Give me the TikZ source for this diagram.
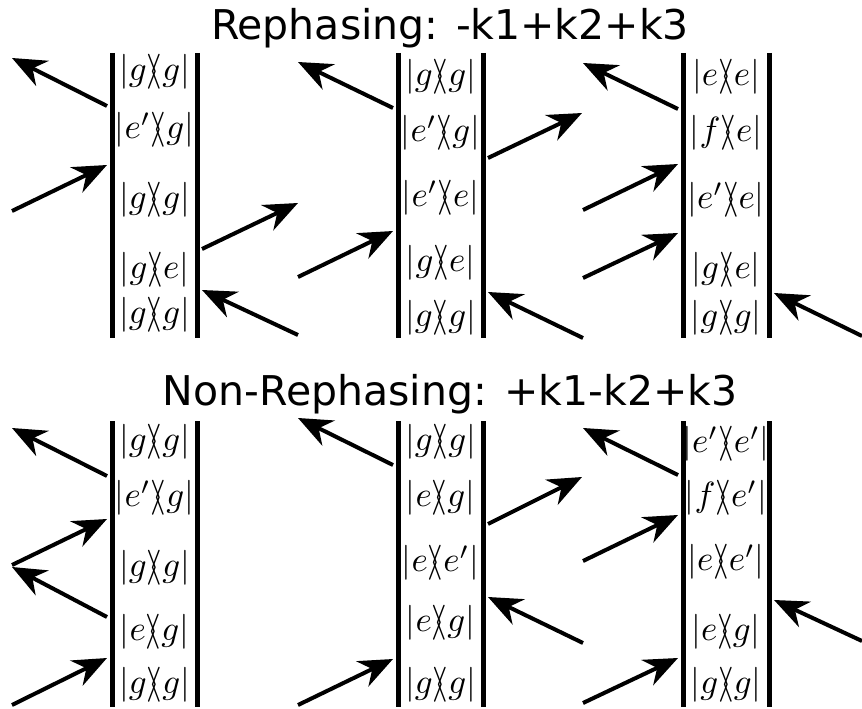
\documentclass[tikz,border=0pt]{standalone}
\usepackage{graphicx}
\usepackage{fontspec}
\newfontfamily\titlefont{DejaVu Sans}
\usepackage{tikz}
\usetikzlibrary{arrows.meta}

\newcommand{\dmat}[2]{\scalebox{3.5}{$|#1\rangle\mkern-6mu\langle #2|$}}

\begin{document}
\begin{tikzpicture}[x=1pt, y=-1pt]
\tikzstyle{state} = [inner sep=0pt]
\tikzstyle{wall} = [line width=5pt]
\tikzstyle{beam} = [line width=4pt, -{Stealth[length=34pt, width=28pt, inset=11pt]}]
\tikzstyle{heading} = [anchor=base, text depth=0pt, font=\titlefont\fontsize{41}{48}\selectfont]
\useasboundingbox (0,0) rectangle (862,709);

\node (rtitle) [heading] at (450,40) {Rephasing: -k1+k2+k3};
\node (ntitle) [heading] at (450,405) {Non-Rephasing: +k1-k2+k3};

% rephasing, left diagram
\draw [wall] (112,53) -- (112,338);
\draw [wall] (197,53) -- (197,338);
\node (r1s1) [state] at (154.5,72)  {\dmat{g}{g}};
\node (r1s2) [state] at (154.5,130) {\dmat{e'}{g}};
\node (r1s3) [state] at (154.5,200) {\dmat{g}{g}};
\node (r1s4) [state] at (154.5,270) {\dmat{g}{e}};
\node (r1s5) [state] at (154.5,315) {\dmat{g}{g}};
\coordinate (r1a) at (107,106); \coordinate (r1a') at (12,58);
\coordinate (r1b) at (107,165); \coordinate (r1b') at (12,211);
\coordinate (r1c) at (202,249); \coordinate (r1c') at (298,203);
\coordinate (r1d) at (202,290); \coordinate (r1d') at (298,335);
\draw [beam] (r1a) -- (r1a');
\draw [beam] (r1b') -- (r1b);
\draw [beam] (r1c) -- (r1c');
\draw [beam] (r1d') -- (r1d);

% rephasing, middle diagram
\draw [wall] (398,53) -- (398,338);
\draw [wall] (483,53) -- (483,338);
\node (r2s1) [state] at (440.5,77)  {\dmat{g}{g}};
\node (r2s2) [state] at (440.5,133) {\dmat{e'}{g}};
\node (r2s3) [state] at (440.5,198) {\dmat{e'}{e}};
\node (r2s4) [state] at (440.5,263) {\dmat{g}{e}};
\node (r2s5) [state] at (440.5,318) {\dmat{g}{g}};
\coordinate (r2a) at (393,108); \coordinate (r2a') at (298,62);
\coordinate (r2b) at (393,231); \coordinate (r2b') at (298,277);
\coordinate (r2c) at (488,158); \coordinate (r2c') at (582,113);
\coordinate (r2d) at (488,292); \coordinate (r2d') at (583,338);
\draw [beam] (r2a) -- (r2a');
\draw [beam] (r2b') -- (r2b);
\draw [beam] (r2c) -- (r2c');
\draw [beam] (r2d') -- (r2d);

% rephasing, right diagram
\draw [wall] (683,53) -- (683,338);
\draw [wall] (769,53) -- (769,338);
\node (r3s1) [state] at (726,77)  {\dmat{e}{e}};
\node (r3s2) [state] at (726,133) {\dmat{f}{e}};
\node (r3s3) [state] at (726,200) {\dmat{e'}{e}};
\node (r3s4) [state] at (726,270) {\dmat{g}{e}};
\node (r3s5) [state] at (726,318) {\dmat{g}{g}};
\coordinate (r3a) at (678,109); \coordinate (r3a') at (583,63);
\coordinate (r3b) at (678,164); \coordinate (r3b') at (583,210);
\coordinate (r3c) at (678,233); \coordinate (r3c') at (583,278);
\coordinate (r3d) at (774,293); \coordinate (r3d') at (862,336);
\draw [beam] (r3a) -- (r3a');
\draw [beam] (r3b') -- (r3b);
\draw [beam] (r3c') -- (r3c);
\draw [beam] (r3d') -- (r3d);

% non-rephasing, left diagram
\draw [wall] (112,421) -- (112,707);
\draw [wall] (197,421) -- (197,707);
\node (n1s1) [state] at (154.5,442) {\dmat{g}{g}};
\node (n1s2) [state] at (154.5,498) {\dmat{e'}{g}};
\node (n1s3) [state] at (154.5,568) {\dmat{g}{g}};
\node (n1s4) [state] at (154.5,632) {\dmat{e}{g}};
\node (n1s5) [state] at (154.5,685) {\dmat{g}{g}};
\coordinate (n1a) at (107,476); \coordinate (n1a') at (12,428);
\coordinate (n1b) at (107,519); \coordinate (n1b') at (12,565);
\coordinate (n1c) at (107,617); \coordinate (n1c') at (12,567);
\coordinate (n1d) at (107,658); \coordinate (n1d') at (12,705);
\draw [beam] (n1a) -- (n1a');
\draw [beam] (n1b') -- (n1b);
\draw [beam] (n1c) -- (n1c');
\draw [beam] (n1d') -- (n1d);

% non-rephasing, middle diagram
\draw [wall] (398,421) -- (398,707);
\draw [wall] (483,421) -- (483,707);
\node (n2s1) [state] at (440.5,442) {\dmat{g}{g}};
\node (n2s2) [state] at (440.5,498) {\dmat{e}{g}};
\node (n2s3) [state] at (440.5,563) {\dmat{e}{e'}};
\node (n2s4) [state] at (440.5,623) {\dmat{e}{g}};
\node (n2s5) [state] at (440.5,685) {\dmat{g}{g}};
\coordinate (n2a) at (393,465); \coordinate (n2a') at (298,418);
\coordinate (n2b) at (488,524); \coordinate (n2b') at (582,477);
\coordinate (n2c) at (488,597); \coordinate (n2c') at (583,643);
\coordinate (n2d) at (393,659); \coordinate (n2d') at (298,705);
\draw [beam] (n2a) -- (n2a');
\draw [beam] (n2b) -- (n2b');
\draw [beam] (n2c') -- (n2c);
\draw [beam] (n2d') -- (n2d);

% non-rephasing, right diagram
\draw [wall] (683,421) -- (683,707);
\draw [wall] (769,421) -- (769,707);
\node (n3s1) [state] at (726,444) {\dmat{e'}{e'}};
\node (n3s2) [state] at (726,498) {\dmat{f}{e'}};
\node (n3s3) [state] at (726,562) {\dmat{e}{e'}};
\node (n3s4) [state] at (726,632) {\dmat{e}{g}};
\node (n3s5) [state] at (726,685) {\dmat{g}{g}};
\coordinate (n3a) at (678,475); \coordinate (n3a') at (583,428);
\coordinate (n3b) at (678,515); \coordinate (n3b') at (583,561);
\coordinate (n3c) at (774,600); \coordinate (n3c') at (862,641);
\coordinate (n3d) at (678,658); \coordinate (n3d') at (583,703);
\draw [beam] (n3a) -- (n3a');
\draw [beam] (n3b') -- (n3b);
\draw [beam] (n3c') -- (n3c);
\draw [beam] (n3d') -- (n3d);

\end{tikzpicture}
\end{document}
